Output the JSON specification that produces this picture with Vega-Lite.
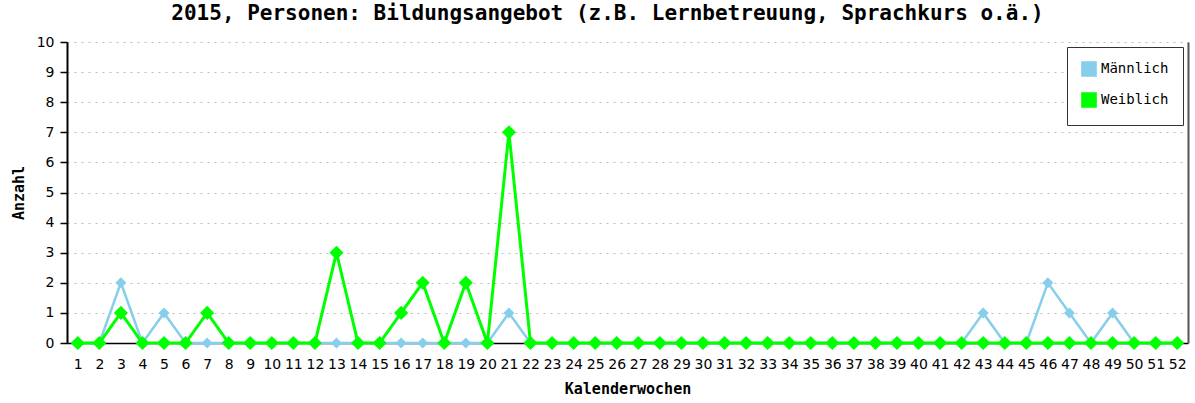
{
  "$schema": "https://vega.github.io/schema/vega-lite/v6.json",
  "autosize": "none",
  "width": 1121,
  "height": 301,
  "padding": {"left": 67, "top": 42, "right": 7, "bottom": 60},
  "background": "white",
  "title": {
    "text": "2015, Personen: Bildungsangebot (z.B. Lernbetreuung, Sprachkurs o.ä.)",
    "font": "DejaVu Sans Mono",
    "fontSize": 21,
    "fontWeight": "bold",
    "color": "black",
    "anchor": "middle",
    "dx": -20,
    "offset": 11
  },
  "config": {
    "view": {"stroke": null},
    "axis": {
      "labelFont": "DejaVu Sans",
      "labelFontSize": 14,
      "labelColor": "black",
      "titleFont": "DejaVu Sans Mono",
      "titleFontSize": 15,
      "titleFontWeight": "bold",
      "titleColor": "black",
      "domainColor": "black",
      "tickColor": "black"
    },
    "legend": {
      "labelFont": "DejaVu Sans Mono",
      "labelFontSize": 14,
      "labelColor": "black"
    }
  },
  "data": {
    "values": [
      {"week": 1, "sex": "Männlich", "count": 0},
      {"week": 2, "sex": "Männlich", "count": 0},
      {"week": 3, "sex": "Männlich", "count": 2},
      {"week": 4, "sex": "Männlich", "count": 0},
      {"week": 5, "sex": "Männlich", "count": 1},
      {"week": 6, "sex": "Männlich", "count": 0},
      {"week": 7, "sex": "Männlich", "count": 0},
      {"week": 8, "sex": "Männlich", "count": 0},
      {"week": 9, "sex": "Männlich", "count": 0},
      {"week": 10, "sex": "Männlich", "count": 0},
      {"week": 11, "sex": "Männlich", "count": 0},
      {"week": 12, "sex": "Männlich", "count": 0},
      {"week": 13, "sex": "Männlich", "count": 0},
      {"week": 14, "sex": "Männlich", "count": 0},
      {"week": 15, "sex": "Männlich", "count": 0},
      {"week": 16, "sex": "Männlich", "count": 0},
      {"week": 17, "sex": "Männlich", "count": 0},
      {"week": 18, "sex": "Männlich", "count": 0},
      {"week": 19, "sex": "Männlich", "count": 0},
      {"week": 20, "sex": "Männlich", "count": 0},
      {"week": 21, "sex": "Männlich", "count": 1},
      {"week": 22, "sex": "Männlich", "count": 0},
      {"week": 23, "sex": "Männlich", "count": 0},
      {"week": 24, "sex": "Männlich", "count": 0},
      {"week": 25, "sex": "Männlich", "count": 0},
      {"week": 26, "sex": "Männlich", "count": 0},
      {"week": 27, "sex": "Männlich", "count": 0},
      {"week": 28, "sex": "Männlich", "count": 0},
      {"week": 29, "sex": "Männlich", "count": 0},
      {"week": 30, "sex": "Männlich", "count": 0},
      {"week": 31, "sex": "Männlich", "count": 0},
      {"week": 32, "sex": "Männlich", "count": 0},
      {"week": 33, "sex": "Männlich", "count": 0},
      {"week": 34, "sex": "Männlich", "count": 0},
      {"week": 35, "sex": "Männlich", "count": 0},
      {"week": 36, "sex": "Männlich", "count": 0},
      {"week": 37, "sex": "Männlich", "count": 0},
      {"week": 38, "sex": "Männlich", "count": 0},
      {"week": 39, "sex": "Männlich", "count": 0},
      {"week": 40, "sex": "Männlich", "count": 0},
      {"week": 41, "sex": "Männlich", "count": 0},
      {"week": 42, "sex": "Männlich", "count": 0},
      {"week": 43, "sex": "Männlich", "count": 1},
      {"week": 44, "sex": "Männlich", "count": 0},
      {"week": 45, "sex": "Männlich", "count": 0},
      {"week": 46, "sex": "Männlich", "count": 2},
      {"week": 47, "sex": "Männlich", "count": 1},
      {"week": 48, "sex": "Männlich", "count": 0},
      {"week": 49, "sex": "Männlich", "count": 1},
      {"week": 50, "sex": "Männlich", "count": 0},
      {"week": 51, "sex": "Männlich", "count": 0},
      {"week": 52, "sex": "Männlich", "count": 0},
      {"week": 1, "sex": "Weiblich", "count": 0},
      {"week": 2, "sex": "Weiblich", "count": 0},
      {"week": 3, "sex": "Weiblich", "count": 1},
      {"week": 4, "sex": "Weiblich", "count": 0},
      {"week": 5, "sex": "Weiblich", "count": 0},
      {"week": 6, "sex": "Weiblich", "count": 0},
      {"week": 7, "sex": "Weiblich", "count": 1},
      {"week": 8, "sex": "Weiblich", "count": 0},
      {"week": 9, "sex": "Weiblich", "count": 0},
      {"week": 10, "sex": "Weiblich", "count": 0},
      {"week": 11, "sex": "Weiblich", "count": 0},
      {"week": 12, "sex": "Weiblich", "count": 0},
      {"week": 13, "sex": "Weiblich", "count": 3},
      {"week": 14, "sex": "Weiblich", "count": 0},
      {"week": 15, "sex": "Weiblich", "count": 0},
      {"week": 16, "sex": "Weiblich", "count": 1},
      {"week": 17, "sex": "Weiblich", "count": 2},
      {"week": 18, "sex": "Weiblich", "count": 0},
      {"week": 19, "sex": "Weiblich", "count": 2},
      {"week": 20, "sex": "Weiblich", "count": 0},
      {"week": 21, "sex": "Weiblich", "count": 7},
      {"week": 22, "sex": "Weiblich", "count": 0},
      {"week": 23, "sex": "Weiblich", "count": 0},
      {"week": 24, "sex": "Weiblich", "count": 0},
      {"week": 25, "sex": "Weiblich", "count": 0},
      {"week": 26, "sex": "Weiblich", "count": 0},
      {"week": 27, "sex": "Weiblich", "count": 0},
      {"week": 28, "sex": "Weiblich", "count": 0},
      {"week": 29, "sex": "Weiblich", "count": 0},
      {"week": 30, "sex": "Weiblich", "count": 0},
      {"week": 31, "sex": "Weiblich", "count": 0},
      {"week": 32, "sex": "Weiblich", "count": 0},
      {"week": 33, "sex": "Weiblich", "count": 0},
      {"week": 34, "sex": "Weiblich", "count": 0},
      {"week": 35, "sex": "Weiblich", "count": 0},
      {"week": 36, "sex": "Weiblich", "count": 0},
      {"week": 37, "sex": "Weiblich", "count": 0},
      {"week": 38, "sex": "Weiblich", "count": 0},
      {"week": 39, "sex": "Weiblich", "count": 0},
      {"week": 40, "sex": "Weiblich", "count": 0},
      {"week": 41, "sex": "Weiblich", "count": 0},
      {"week": 42, "sex": "Weiblich", "count": 0},
      {"week": 43, "sex": "Weiblich", "count": 0},
      {"week": 44, "sex": "Weiblich", "count": 0},
      {"week": 45, "sex": "Weiblich", "count": 0},
      {"week": 46, "sex": "Weiblich", "count": 0},
      {"week": 47, "sex": "Weiblich", "count": 0},
      {"week": 48, "sex": "Weiblich", "count": 0},
      {"week": 49, "sex": "Weiblich", "count": 0},
      {"week": 50, "sex": "Weiblich", "count": 0},
      {"week": 51, "sex": "Weiblich", "count": 0},
      {"week": 52, "sex": "Weiblich", "count": 0}
    ]
  },
  "encoding": {
    "x": {
      "field": "week",
      "type": "ordinal",
      "sort": "ascending",
      "scale": {"type": "point", "padding": 0.5},
      "axis": {
        "title": "Kalenderwochen",
        "labelAngle": 0,
        "ticks": false,
        "labelPadding": 14,
        "titlePadding": 10,
        "domainWidth": 1.5
      }
    },
    "color": {
      "field": "sex",
      "type": "nominal",
      "scale": {"domain": ["Männlich", "Weiblich"], "range": ["#87CEEB", "#00FF00"]},
      "legend": {
        "title": null,
        "orient": "top-right",
        "offset": 5,
        "strokeColor": "#333333",
        "fillColor": "white",
        "padding": 14,
        "symbolType": "square",
        "symbolSize": 200,
        "symbolStrokeWidth": 1,
        "symbolOpacity": 1,
        "rowPadding": 9,
        "encode": {
          "symbols": {
            "update": {
              "stroke": {"value": "#222222"},
              "strokeWidth": {"value": 1.5}
            }
          }
        }
      }
    }
  },
  "layer": [
    {
      "transform": [{"filter": "datum.sex === 'Männlich'"}],
      "mark": {"type": "line", "strokeWidth": 2.5},
      "encoding": {
        "y": {
          "field": "count",
          "type": "quantitative",
          "scale": {"domain": [0, 10]},
          "axis": {
            "title": "Anzahl",
            "values": [0, 1, 2, 3, 4, 5, 6, 7, 8, 9, 10],
            "tickSize": 7,
            "tickWidth": 1.5,
            "domainWidth": 2,
            "labelPadding": 6,
            "titlePadding": 10,
            "grid": true,
            "gridColor": "#bbbbbb",
            "gridDash": [2, 5],
            "gridWidth": 1
          }
        }
      }
    },
    {
      "transform": [{"filter": "datum.sex === 'Männlich'"}],
      "mark": {"type": "point", "shape": "diamond", "filled": true, "opacity": 1, "size": 121},
      "encoding": {
        "y": {"field": "count", "type": "quantitative", "axis": null}
      }
    },
    {
      "transform": [{"filter": "datum.sex === 'Weiblich'"}],
      "mark": {"type": "line", "strokeWidth": 3},
      "encoding": {
        "y": {"field": "count", "type": "quantitative", "axis": null}
      }
    },
    {
      "transform": [{"filter": "datum.sex === 'Weiblich'"}],
      "mark": {"type": "point", "shape": "diamond", "filled": true, "opacity": 1, "size": 200},
      "encoding": {
        "y": {
          "field": "count",
          "type": "quantitative",
          "axis": {
            "orient": "right",
            "title": null,
            "labels": false,
            "ticks": false,
            "grid": false,
            "domainColor": "#555555",
            "domainWidth": 2
          }
        }
      }
    }
  ],
  "resolve": {"axis": {"y": "independent"}}
}
